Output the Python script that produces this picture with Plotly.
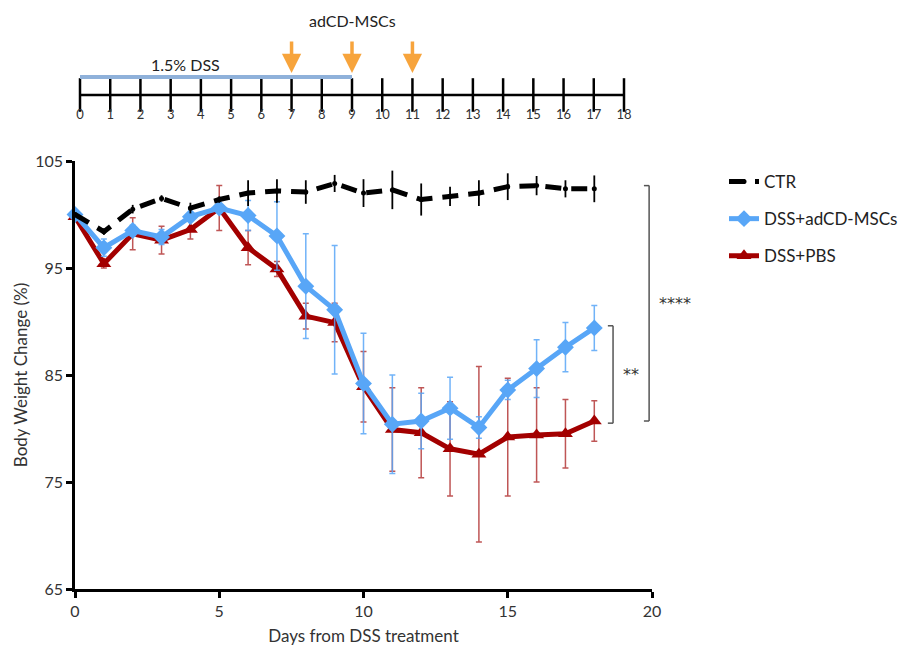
import plotly.graph_objects as go

# ---------------- data ----------------
days = list(range(19))
ctr = [100.0, 98.4, 100.5, 101.5, 100.6, 101.4, 102.0, 102.2, 102.1, 102.9, 102.0,
       102.3, 101.4, 101.7, 102.0, 102.6, 102.7, 102.4, 102.4]
ctr_err = [0.2, 0.3, 0.4, 0.3, 0.5, 0.3, 1.2, 1.1, 1.1, 0.8, 1.3, 1.8, 1.5, 0.9,
           1.2, 1.25, 0.9, 0.8, 1.25]
msc = [100.0, 96.9, 98.5, 97.9, 99.8, 100.6, 99.9, 98.0, 93.3, 91.1, 84.2, 80.4,
       80.7, 81.9, 80.1, 83.6, 85.6, 87.6, 89.4]
msc_err = [0.2, 0.8, 0.5, 0.7, 0.3, 0.3, 1.4, 3.2, 4.9, 6.0, 4.7, 4.6, 2.6, 2.9,
           1.0, 0.9, 2.7, 2.3, 2.1]
pbs = [99.8, 95.4, 98.2, 97.6, 98.6, 100.6, 96.9, 94.9, 90.5, 89.9, 83.9, 79.9,
       79.6, 78.1, 77.6, 79.2, 79.4, 79.5, 80.7]
pbs_err = [0.2, 0.4, 1.5, 1.3, 0.9, 2.1, 1.6, 0.7, 1.2, 1.8, 3.3, 3.9, 4.2, 4.4,
           8.2, 5.5, 4.4, 3.2, 1.9]

timeline_days = list(range(19))
dss_period = [0, 9]
injection_days = [7, 9, 11]

sig_pairs = [
    {"label": "**", "x": 18.65, "y0": 89.6, "y1": 80.5},
    {"label": "****", "x": 19.9, "y0": 102.7, "y1": 80.7},
]

FONT = "Lato, 'Open Sans', sans-serif"
BLUE = "#58a6f7"
RED = "#a30000"
ORANGE = "#f7a43c"

fig = go.Figure()

# ---------------- main chart ----------------
fig.add_trace(go.Scatter(
    x=days, y=pbs, name="DSS+PBS", mode="lines+markers",
    line=dict(color=RED, width=5),
    marker=dict(symbol="triangle-up", size=13, color=RED),
    error_y=dict(type="data", array=pbs_err, color="rgba(170,30,30,0.75)",
                 thickness=1.5, width=3),
    legendrank=3, legendgroup="c", cliponaxis=False,
))
fig.add_trace(go.Scatter(
    x=days, y=msc, name="DSS+adCD-MSCs", mode="lines+markers",
    line=dict(color=BLUE, width=5),
    marker=dict(symbol="diamond", size=13, color=BLUE),
    error_y=dict(type="data", array=msc_err, color="rgba(88,166,247,0.85)",
                 thickness=1.5, width=3),
    legendrank=2, legendgroup="b", cliponaxis=False,
))
fig.add_trace(go.Scatter(
    x=days, y=ctr, name="CTR", mode="lines+markers",
    line=dict(color="black", width=5, dash="16px,10px"),
    marker=dict(symbol="circle", size=5, color="black"),
    error_y=dict(type="data", array=ctr_err, color="black", thickness=1.8, width=0),
    legendrank=1, legendgroup="a", cliponaxis=False,
))

# ---------------- timeline ----------------
fig.add_trace(go.Scatter(
    x=[timeline_days[0], timeline_days[-1]], y=[0, 0], mode="lines",
    line=dict(color="black", width=2.5), xaxis="x2", yaxis="y2",
    showlegend=False, hoverinfo="skip", cliponaxis=False,
))
fig.add_trace(go.Scatter(
    x=timeline_days, y=[0] * len(timeline_days), mode="markers",
    marker=dict(symbol="line-ns-open", size=24, color="black",
                line=dict(color="black", width=2.5)),
    xaxis="x2", yaxis="y2", showlegend=False, hoverinfo="skip", cliponaxis=False,
))
fig.add_trace(go.Scatter(
    x=dss_period, y=[0.9, 0.9], mode="lines",
    line=dict(color="#8fb1da", width=4), xaxis="x2", yaxis="y2",
    showlegend=False, hoverinfo="skip", cliponaxis=False,
))

annotations = [
    dict(x=sum(dss_period) / 2 - 1, y=1.5, xref="x2", yref="y2", text="1.5% DSS",
         showarrow=False, font=dict(family=FONT, size=16, color="#222")),
    dict(x=injection_days[1], y=3.7, xref="x2", yref="y2", text="adCD-MSCs",
         showarrow=False, font=dict(family=FONT, size=16, color="#222")),
]
for d in injection_days:
    annotations.append(dict(
        x=d, y=1.1, xref="x2", yref="y2", text="", showarrow=True,
        ax=0, ay=-33, arrowhead=2, arrowwidth=3.5, arrowsize=1.1,
        arrowcolor=ORANGE,
    ))

shapes = []
for s in sig_pairs:
    for yy in (s["y0"], s["y1"]):
        shapes.append(dict(type="line", xref="x", yref="y", x0=s["x"] - 0.18,
                           x1=s["x"], y0=yy, y1=yy,
                           line=dict(color="#555", width=1.5)))
    shapes.append(dict(type="line", xref="x", yref="y", x0=s["x"], x1=s["x"],
                       y0=s["y0"], y1=s["y1"], line=dict(color="#555", width=1.5)))
    annotations.append(dict(
        x=s["x"], y=(s["y0"] + s["y1"]) / 2, xref="x", yref="y", text=s["label"],
        showarrow=False, xanchor="left", xshift=8,
        font=dict(family="DejaVu Sans, sans-serif", size=16, color="#333")))

W, H = 922, 647
fig.update_layout(
    width=W, height=H,
    margin=dict(l=0, r=0, t=0, b=0, autoexpand=False),
    paper_bgcolor="white", plot_bgcolor="white",
    font=dict(family=FONT, size=15, color="#333"),
    xaxis=dict(
        domain=[75 / W, 652 / W], range=[0, 20], tickvals=[0, 5, 10, 15, 20],
        showgrid=False, zeroline=False, showline=True, linecolor="black",
        linewidth=2.5, ticks="outside", ticklen=6, tickwidth=2.5, tickcolor="black",
        tickfont=dict(family=FONT, size=16, color="#333"),
        title=dict(text="Days from DSS treatment", standoff=12,
                   font=dict(family=FONT, size=17, color="#333")),
        anchor="y", automargin=False,
    ),
    yaxis=dict(
        domain=[1 - 589 / H, 1 - 161 / H], range=[65, 105],
        tickvals=[65, 75, 85, 95, 105],
        showgrid=False, zeroline=False, showline=True, linecolor="black",
        linewidth=2.5, ticks="outside", ticklen=6, tickwidth=2.5, tickcolor="black",
        tickfont=dict(family=FONT, size=16, color="#333"),
        title=dict(text="Body Weight Change (%)", standoff=4,
                   font=dict(family=FONT, size=17, color="#333")),
        anchor="x", automargin=False,
    ),
    xaxis2=dict(
        domain=[80 / W, 624 / W], range=[0, 18], tickvals=timeline_days,
        showgrid=False, zeroline=False, showline=False, ticks="",
        tickfont=dict(family=FONT, size=13, color="#333"), anchor="y2",
        automargin=False,
    ),
    yaxis2=dict(
        domain=[1 - 105 / H, 1 - 5 / H], range=[-0.5, 4.5], visible=False,
        anchor="x2", automargin=False,
    ),
    legend=dict(
        x=724 / W, y=1 - 164 / H, xanchor="left", yanchor="top",
        font=dict(family=FONT, size=17, color="#222"),
        traceorder="grouped", tracegroupgap=12, bgcolor="rgba(0,0,0,0)",
    ),
    annotations=annotations,
    shapes=shapes,
)

fig.write_html(
    "out.html",
    config={"displayModeBar": False},
    post_script="document.body.style.margin='0';document.body.style.padding='0';",
)
